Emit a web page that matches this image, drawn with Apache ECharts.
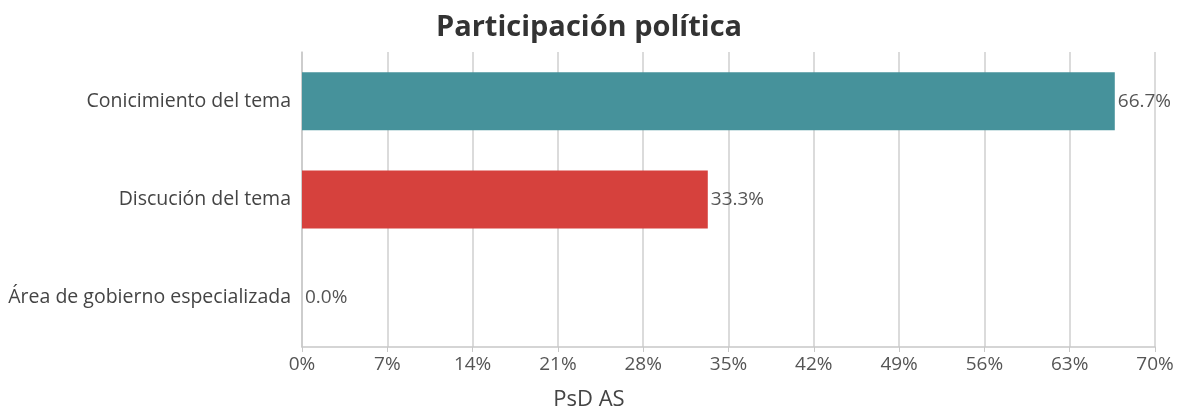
<!DOCTYPE html>
<html>
<head>
<meta charset="utf-8">
<script src="https://cdn.jsdelivr.net/npm/echarts@6/dist/echarts.min.js"></script>
<style>
	html, body { margin: 0; padding: 0; background: #fff; }
	#main { width: 1178px; height: 411px; }
</style>
</head>
<body>
<div id="main"></div>
<script>
// datos del gráfico
var categorias = ['Conicimiento del tema', 'Discución del tema', 'Área de gobierno especializada'];
var valores = [66.7, 33.3, 0.0];
var colores = ['#46929b', '#d6413d', '#8fbc8f'];

var myChart = echarts.init(document.getElementById('main'));
var fuente = '"Open Sans", "Noto Sans", sans-serif';

var option = {
	backgroundColor: '#fff',
	animation: false,
	title: [{
		text: 'Participación política',
		left: 'center',
		top: 8,
		textStyle: {
			fontFamily: fuente,
			fontWeight: 'bold',
			fontSize: 29,
			color: '#333'
		}
	}, {
		text: 'PsD AS',
		left: 'center',
		top: 384,
		textStyle: {
			fontFamily: fuente,
			fontWeight: 'normal',
			fontSize: 22,
			color: '#444'
		}
	}],
	grid: {
		left: 302,
		right: 23,
		top: 52,
		bottom: 64
	},
	xAxis: {
		type: 'value',
		min: 0,
		max: 70,
		interval: 7,
		axisLine: { show: true, lineStyle: { color: '#c8c8c8', width: 1.5 } },
		axisTick: { show: true, length: 5, lineStyle: { color: '#c8c8c8' } },
		splitLine: { show: true, lineStyle: { color: '#cfcfcf', width: 1.5 } },
		axisLabel: {
			formatter: '{value}%',
			fontFamily: fuente,
			fontSize: 19,
			color: '#555',
			margin: 8
		}
	},
	yAxis: {
		type: 'category',
		inverse: true,
		data: categorias,
		axisLine: { show: true, lineStyle: { color: '#c8c8c8', width: 1.5 } },
		axisTick: { show: false },
		axisLabel: {
			fontFamily: fuente,
			fontSize: 19.5,
			color: '#444',
			margin: 11
		}
	},
	series: [{
		type: 'bar',
		barWidth: '59%',
		data: valores.map(function (v, i) {
			return { value: v, itemStyle: { color: colores[i] } };
		}),
		label: {
			show: true,
			position: 'right',
			distance: 3,
			formatter: function (p) { return p.value.toFixed(1) + '%'; },
			fontFamily: fuente,
			fontSize: 19,
			color: '#555'
		}
	}]
};

myChart.setOption(option);
</script>
</body>
</html>
